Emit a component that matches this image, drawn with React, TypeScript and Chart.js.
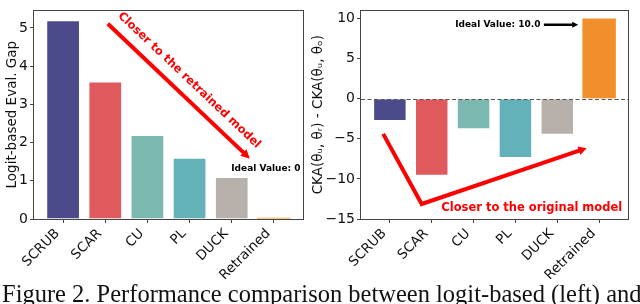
import React, { useEffect, useRef } from 'react';
import { Chart, registerables } from 'chart.js';

Chart.register(...registerables);
Chart.defaults.font.family = '"DejaVu Sans", sans-serif';

// ---------- data ----------
const categories = ['SCRUB', 'SCAR', 'CU', 'PL', 'DUCK', 'Retrained'];
const logitGap = [5.2, 3.6, 2.2, 1.6, 1.1, 0.03];
const ckaDiff = [-2.8, -9.6, -3.8, -7.4, -4.5, 10.0];
const barColors = ['#4b4a8b', '#e0595d', '#7ab8b0', '#63b2ba', '#b8b0ab', '#f28f2c'];
const barBorders = [1, 1, 1, 1, 1, 0];
const leftYTicks = [0, 1, 2, 3, 4, 5];
const rightYTicks = [-15, -10, -5, 0, 5, 10];
const leftYTitle = 'Logit-based Eval. Gap';
const rightYTitle = 'CKA(\u03b8\u1d64, \u03b8\u1d63) - CKA(\u03b8\u1d64, \u03b8\u2092)';
const caption = 'Figure 2. Performance comparison between logit-based (left) and CKA-based (right) metrics.';

// annotations (data coordinates)
const leftArrow = [[1.06, 5.11], [4.43, 1.58]];
const leftArrowText = { x: 2.99, y: 3.63, text: 'Closer to the retrained model' };
const leftIdeal = { x: 4.81, y: 1.31, text: 'Ideal Value: 0' };
const rightArrow = [[-0.16, -4.39], [0.76, -13.13], [4.7, -6.17]];
const rightArrowText = { x: 3.39, y: -13.69, text: 'Closer to the original model' };
const rightIdeal = { x: 2.58, y: 9.21, text: 'Ideal Value: 10.0' };
const rightIdealArrow = [[3.68, 9.21], [4.5, 9.21]];

const AXIS = '#444';
const TEXT = '#111';
const RED = '#ff0000';

function fmt(v: number) {
  return v < 0 ? '\u2212' + Math.abs(v) : String(v);
}

function drawArrow(ctx: CanvasRenderingContext2D, pts: number[][], color: string, lw: number, headL: number, headW: number) {
  const n = pts.length;
  const [tx, ty] = pts[n - 1];
  const [px, py] = pts[n - 2];
  const ang = Math.atan2(ty - py, tx - px);
  const bx = tx - headL * Math.cos(ang);
  const by = ty - headL * Math.sin(ang);
  ctx.save();
  ctx.strokeStyle = color;
  ctx.fillStyle = color;
  ctx.lineWidth = lw;
  ctx.lineJoin = 'miter';
  ctx.lineCap = 'butt';
  ctx.beginPath();
  ctx.moveTo(pts[0][0], pts[0][1]);
  for (let i = 1; i < n - 1; i++) ctx.lineTo(pts[i][0], pts[i][1]);
  ctx.lineTo(bx + Math.cos(ang), by + Math.sin(ang));
  ctx.stroke();
  ctx.beginPath();
  ctx.moveTo(tx, ty);
  ctx.lineTo(bx + (headW / 2) * Math.sin(ang), by - (headW / 2) * Math.cos(ang));
  ctx.lineTo(bx - (headW / 2) * Math.sin(ang), by + (headW / 2) * Math.cos(ang));
  ctx.closePath();
  ctx.fill();
  ctx.restore();
}

type Spec = {
  arrows: { pts: number[][]; color: string; lw: number; headL: number; headW: number }[];
  texts: { x: number; y: number; text: string; color: string; size: number; angleFrom?: number[][] }[];
  zeroLine: boolean;
};

function makeDecor(spec: Spec) {
  return {
    id: 'decor',
    afterDatasetsDraw(chart: any) {
      const { ctx, chartArea: a, scales } = chart;
      const ys = scales.y;
      if (spec.zeroLine) {
        const y0 = Math.round(ys.getPixelForValue(0)) + 0.5;
        ctx.save();
        ctx.strokeStyle = '#555';
        ctx.lineWidth = 1.2;
        ctx.setLineDash([4, 2.5]);
        ctx.beginPath();
        ctx.moveTo(a.left, y0);
        ctx.lineTo(a.right, y0);
        ctx.stroke();
        ctx.restore();
      }
    },
    afterDraw(chart: any) {
      const { ctx, chartArea: a, scales } = chart;
      const xs = scales.x;
      const ys = scales.y;
      const toPx = (p: number[]) => [xs.getPixelForValue(p[0]), ys.getPixelForValue(p[1])];
      // frame
      ctx.save();
      ctx.strokeStyle = AXIS;
      ctx.lineWidth = 1;
      const l = Math.floor(a.left) - 0.5;
      const t = Math.floor(a.top) + 0.5;
      const r = Math.floor(a.right) + 0.5;
      const b = Math.floor(a.bottom) + 0.5;
      ctx.strokeRect(l, t, r - l, b - t);
      ctx.restore();
      // x tick labels rotated 45
      ctx.save();
      const fs = 13.5;
      ctx.font = `${fs}px "DejaVu Sans"`;
      ctx.fillStyle = TEXT;
      ctx.textAlign = 'right';
      ctx.textBaseline = 'middle';
      const h = fs * 1.16;
      categories.forEach((c, i) => {
        const px = xs.getPixelForValue(i);
        const y0 = a.bottom + 4 + 3;
        ctx.save();
        ctx.translate(px - 0.354 * h, y0 + 0.354 * h);
        ctx.rotate(-Math.PI / 4);
        ctx.fillText(c, 0, 0);
        ctx.restore();
      });
      ctx.restore();
      // arrows
      spec.arrows.forEach((ar) => {
        drawArrow(ctx, ar.pts.map(toPx), ar.color, ar.lw, ar.headL, ar.headW);
      });
      // texts
      spec.texts.forEach((tx) => {
        const [cx, cy] = toPx([tx.x, tx.y]);
        let ang = 0;
        if (tx.angleFrom) {
          const p1 = toPx(tx.angleFrom[0]);
          const p2 = toPx(tx.angleFrom[1]);
          ang = Math.atan2(p2[1] - p1[1], p2[0] - p1[0]);
        }
        ctx.save();
        ctx.translate(cx, cy);
        ctx.rotate(ang);
        ctx.font = `bold ${tx.size}px "DejaVu Sans"`;
        ctx.fillStyle = tx.color;
        ctx.textAlign = 'center';
        ctx.textBaseline = 'middle';
        ctx.fillText(tx.text, 0, 0);
        ctx.restore();
      });
    },
  };
}

function makeConfig(
  values: number[],
  yMin: number,
  yMax: number,
  yTicks: number[],
  yTitle: string,
  titlePad: number,
  yAxisWidth: number,
  padRight: number,
  spec: Spec
): any {
  const grid = {
    display: true,
    drawOnChartArea: false,
    drawTicks: true,
    tickLength: 4,
    color: AXIS,
    lineWidth: 1,
    offset: false,
  };
  return {
    type: 'bar',
    data: {
      datasets: [
        {
          data: values.map((v, i) => ({ x: i, y: v })),
          backgroundColor: barColors,
          borderColor: 'rgba(255,255,255,0.55)',
          borderWidth: barBorders,
          barPercentage: 0.8,
          categoryPercentage: 1,
        },
      ],
    },
    options: {
      animation: false,
      responsive: false,
      devicePixelRatio: 1,
      layout: { padding: { top: 1, right: padRight, left: 0, bottom: 0 } },
      plugins: { legend: { display: false }, tooltip: { enabled: false } },
      scales: {
        x: {
          type: 'linear',
          min: -0.69,
          max: 5.69,
          bounds: 'data',
          offset: false,
          grid,
          border: { display: false },
          ticks: { display: false },
          afterBuildTicks: (s: any) => {
            s.ticks = categories.map((_, i) => ({ value: i }));
          },
          afterFit: (s: any) => {
            s.height = 63;
          },
        },
        y: {
          type: 'linear',
          min: yMin,
          max: yMax,
          bounds: 'data',
          grid,
          border: { display: false },
          ticks: {
            font: { size: 14 },
            color: TEXT,
            padding: 2,
            callback: (v: number) => fmt(v),
          },
          title: {
            display: true,
            text: yTitle,
            font: { size: 13.5 },
            color: TEXT,
            padding: { top: titlePad, bottom: 0 },
          },
          afterBuildTicks: (s: any) => {
            s.ticks = yTicks.map((v) => ({ value: v }));
          },
          afterFit: (s: any) => {
            s.width = yAxisWidth;
          },
        },
      },
    },
    plugins: [makeDecor(spec)],
  };
}

export default function App() {
  const lRef = useRef<HTMLCanvasElement>(null);
  const rRef = useRef<HTMLCanvasElement>(null);

  useEffect(() => {
    document.body.style.margin = '0';
    const left = new Chart(
      lRef.current as HTMLCanvasElement,
      makeConfig(logitGap, 0, 5.46, leftYTicks, leftYTitle, 4, 34, 7, {
        arrows: [{ pts: leftArrow, color: RED, lw: 4, headL: 9, headW: 9 }],
        texts: [
          { ...leftArrowText, color: RED, size: 11.5, angleFrom: leftArrow },
          { ...leftIdeal, color: '#000', size: 9 },
        ],
        zeroLine: false,
      })
    );
    const right = new Chart(
      rRef.current as HTMLCanvasElement,
      makeConfig(ckaDiff, -15, 11, rightYTicks, rightYTitle, 0, 51, 12, {
        arrows: [
          { pts: rightArrow, color: RED, lw: 4, headL: 8, headW: 9 },
          { pts: rightIdealArrow, color: '#000', lw: 2.5, headL: 6, headW: 6 },
        ],
        texts: [
          { ...rightArrowText, color: RED, size: 11.5 },
          { ...rightIdeal, color: '#000', size: 9 },
        ],
        zeroLine: true,
      })
    );
    return () => {
      left.destroy();
      right.destroy();
    };
  }, []);

  return (
    <div
      style={{
        position: 'relative',
        width: 640,
        height: 304,
        overflow: 'hidden',
        background: '#fff',
      }}
    >
      <canvas ref={lRef} width={310} height={282} style={{ position: 'absolute', left: 0, top: 0 }} />
      <canvas ref={rRef} width={330} height={282} style={{ position: 'absolute', left: 310, top: 0 }} />
      <div
        style={{
          position: 'absolute',
          left: 2,
          top: 282,
          font: '24.5px "Liberation Serif", serif',
          lineHeight: '24px',
          whiteSpace: 'nowrap',
          color: '#111',
        }}
      >
        {caption}
      </div>
    </div>
  );
}
